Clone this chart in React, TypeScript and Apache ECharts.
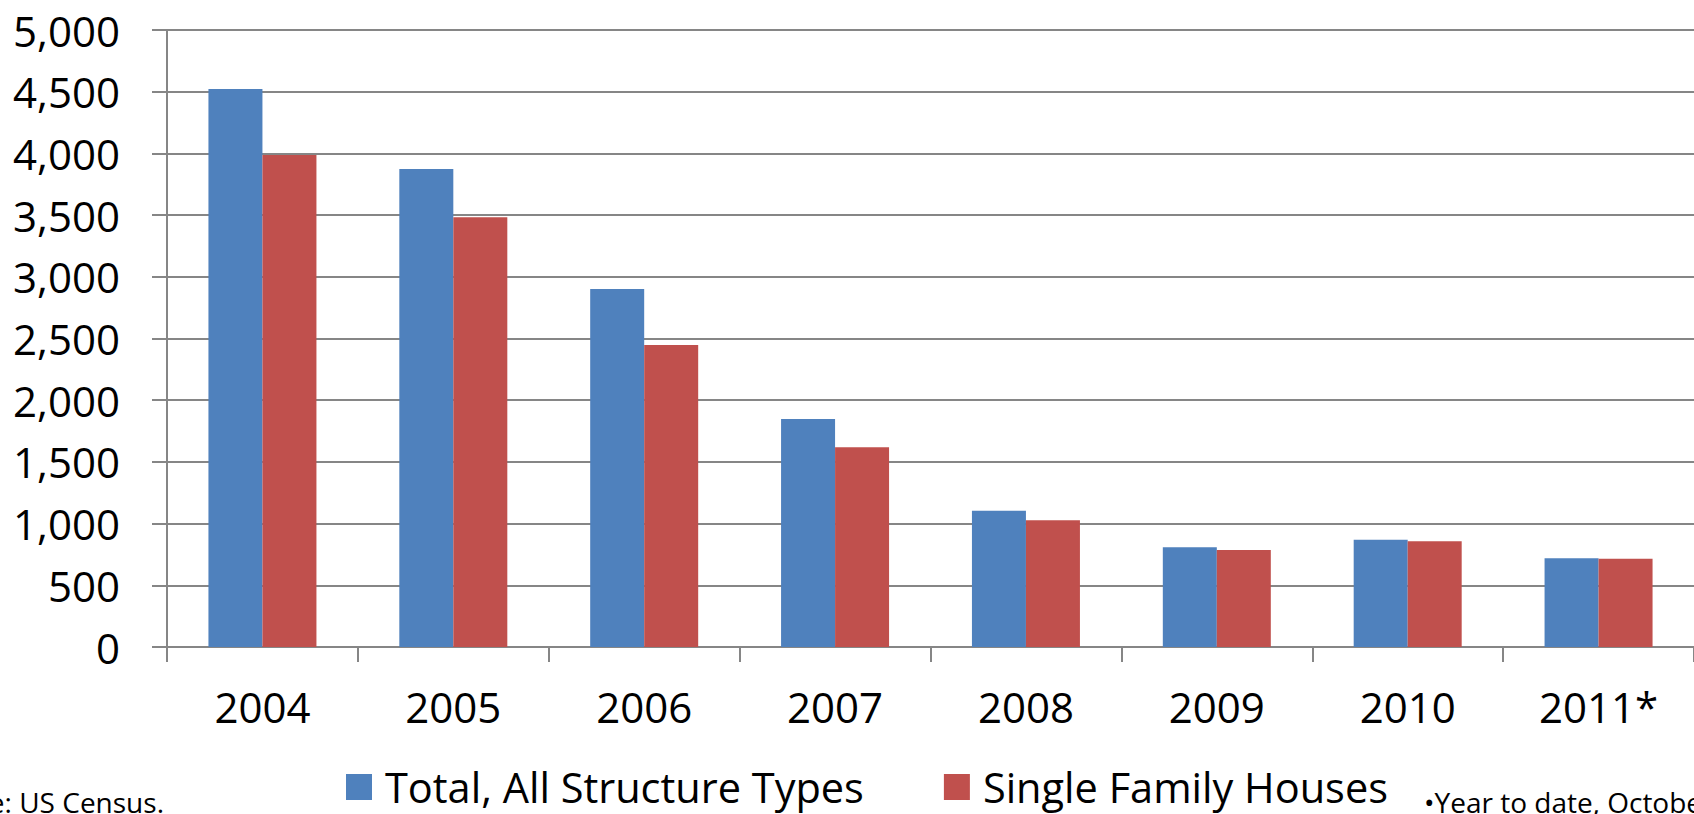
import React, { useEffect, useRef } from "react";
import * as echarts from "echarts";

const categories = ["2004", "2005", "2006", "2007", "2008", "2009", "2010", "2011*"];
const totalAllTypes = [4522, 3874, 2901, 1848, 1105, 808, 870, 719];
const singleFamily = [3987, 3482, 2447, 1618, 1027, 786, 857, 716];
const seriesNames = ["Total, All Structure Types", "Single Family Houses"];
const sourceNote = "Source: US Census.";
const footNote = "•Year to date, October 2011";

const FONT = "'Open Sans', 'Liberation Sans', sans-serif";
const GRAY = "#868686";

export default function App() {
  const ref = useRef<HTMLDivElement>(null);
  useEffect(() => {
    if (!ref.current) return;
    const chart = echarts.init(ref.current, undefined, { renderer: "svg" });
    chart.setOption({
      animation: false,
      backgroundColor: "#ffffff",
      textStyle: { fontFamily: FONT },
      grid: { left: 167, right: 0, top: 30, bottom: 167, containLabel: false },
      legend: {
        left: 341,
        top: 761,
        icon: "rect",
        itemWidth: 26,
        itemHeight: 26,
        itemGap: 80,
        textStyle: { fontSize: 41.5, color: "#000", fontFamily: FONT, padding: [0, 0, 0, 8] },
        data: seriesNames,
      },
      xAxis: {
        type: "category",
        data: categories,
        axisLine: { lineStyle: { color: GRAY, width: 2 } },
        axisTick: { show: true, length: 15, lineStyle: { color: GRAY, width: 2 } },
        axisLabel: { fontSize: 42, color: "#000", margin: 38, fontFamily: FONT },
      },
      yAxis: {
        type: "value",
        min: 0,
        max: 5000,
        interval: 500,
        axisLine: { show: true, lineStyle: { color: GRAY, width: 2 } },
        axisTick: { show: true, length: 15, lineStyle: { color: GRAY, width: 2 } },
        splitLine: { show: true, lineStyle: { color: GRAY, width: 2 } },
        axisLabel: {
          fontSize: 42,
          color: "#000",
          margin: 47,
          fontFamily: FONT,
          formatter: (v: number) => v.toLocaleString("en-US"),
        },
      },
      series: [
        {
          name: seriesNames[0],
          type: "bar",
          data: totalAllTypes,
          barWidth: 54,
          barGap: "0%",
          itemStyle: { color: "#4F81BD" },
        },
        {
          name: seriesNames[1],
          type: "bar",
          data: singleFamily,
          barWidth: 54,
          barGap: "0%",
          itemStyle: { color: "#C0504D" },
        },
      ],
      graphic: [
        {
          type: "text",
          right: 1694 - 164,
          top: 788,
          style: { text: sourceNote, font: `28px ${FONT}`, fill: "#000", textAlign: "right" },
        },
        {
          type: "text",
          left: 1424,
          top: 788,
          style: { text: footNote, font: `28px ${FONT}`, fill: "#000" },
        },
      ],
    });
    return () => chart.dispose();
  }, []);
  return (
    <div
      ref={ref}
      style={{ position: "absolute", left: 0, top: 0, width: 1694, height: 814 }}
    />
  );
}
